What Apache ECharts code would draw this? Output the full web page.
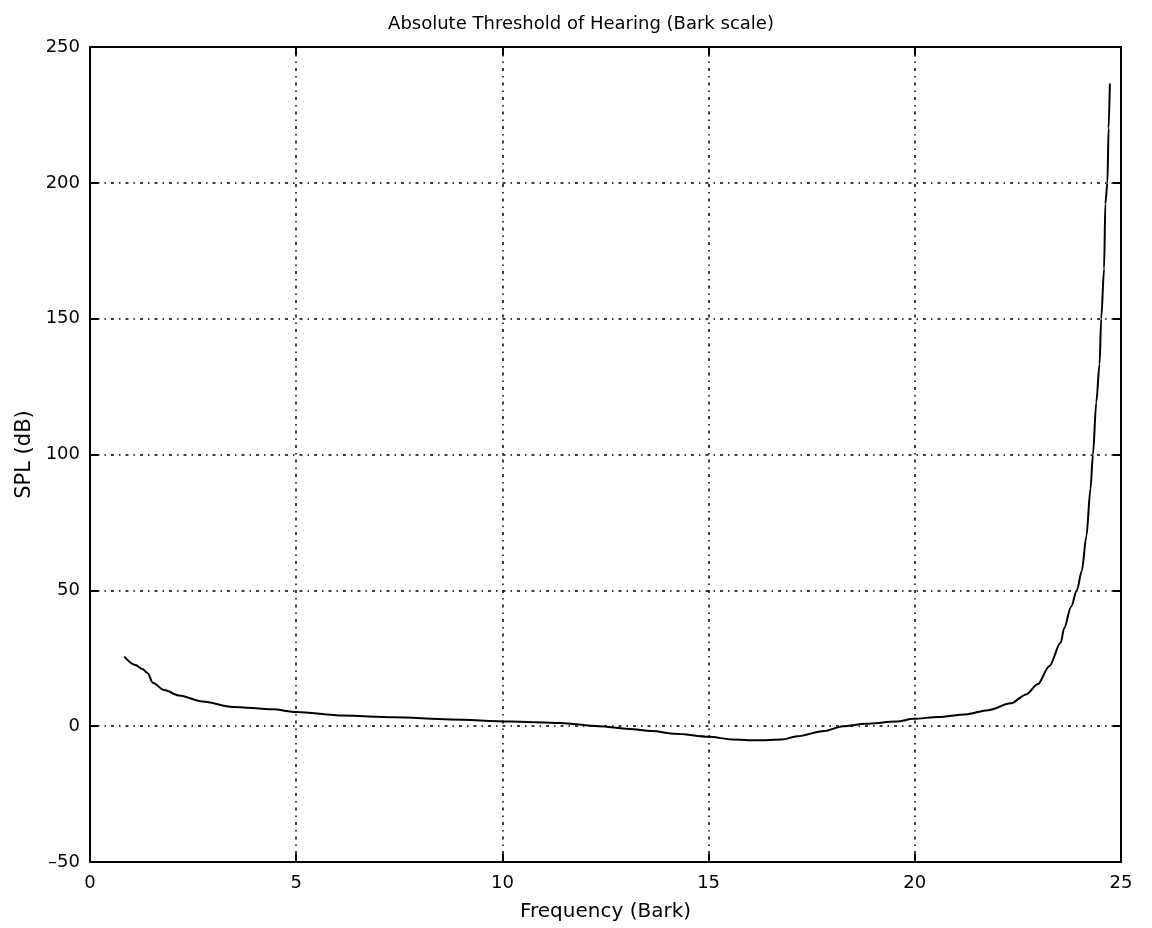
<!DOCTYPE html>
<html>
<head>
<meta charset="utf-8">
<script src="https://cdn.jsdelivr.net/npm/echarts@6/dist/echarts.min.js"></script>
<style>
html,body{margin:0;padding:0;background:#fff;}
#chart{width:1152px;height:928px;}
</style>
</head>
<body>
<div id="chart"></div>
<script>
const titleText = "Absolute Threshold of Hearing (Bark scale)";
const xAxisName = "Frequency (Bark)";
const yAxisName = "SPL (dB)";
const xTicks = [0, 5, 10, 15, 20, 25];
const yTicks = [-50, 0, 50, 100, 150, 200, 250];

const bark = [0.83, 1.1, 1.27, 1.4, 1.52, 1.8, 2.16, 2.73, 3.46, 4.43, 5.0, 6.13, 7.35, 8.73, 10.19, 11.4,
  12.33, 13.07, 13.63, 14.19, 15.02, 15.57, 16.18, 16.78, 17.15, 17.80, 18.26, 18.81, 19.56, 19.97,
  20.57, 21.22, 21.78, 22.33, 22.70, 22.98, 23.26, 23.54, 23.62, 23.79, 23.93, 24.05, 24.16, 24.26,
  24.32, 24.40, 24.48, 24.52, 24.59, 24.62, 24.67, 24.70, 24.73];
const spl = [25.6, 22.5, 21.0, 19.5, 16.0, 13.3, 11.3, 9.1, 7.1, 6.2, 5.2, 3.9, 3.3, 2.5, 1.7, 1.2,
  0.0, -1.0, -1.8, -2.8, -3.9, -4.9, -5.2, -4.9, -3.7, -1.8, 0.0, 0.9, 1.7, 2.7,
  3.4, 4.3, 5.9, 8.4, 11.7, 15.4, 22.1, 30.8, 36.0, 44.0, 50.0, 57.2, 69.8, 87.4,
  100.0, 119.1, 133.2, 150.0, 168.4, 192.3, 200.0, 220.1, 236.6];

const font = "'DejaVu Sans', 'Liberation Sans', sans-serif";
const points = bark.map((b, i) => [b, spl[i]]);

const gridDash = [1.5, 5, 3, 5];
const chart = echarts.init(document.getElementById('chart'), null, {renderer: 'canvas'});
const xMin = xTicks[0], xMax = xTicks[xTicks.length - 1];
const yMin = yTicks[0], yMax = yTicks[yTicks.length - 1];

const baseAxisLine = {show: true, onZero: false, lineStyle: {color: '#000', width: 2}};
const tick = {show: true, inside: true, length: 8, lineStyle: {color: '#000', width: 2}};
const minusFmt = v => String(v).replace('-', '\u2013');

chart.setOption({
  animation: false,
  backgroundColor: '#fff',
  title: {
    text: titleText, left: 576, top: 10, textAlign: 'center',
    textStyle: {fontFamily: font, fontSize: 18, fontWeight: 'normal', color: '#000'}
  },
  grid: {left: 90, right: 31, top: 47, bottom: 66},
  xAxis: [{
    type: 'value', min: xMin, max: xMax, interval: 5, position: 'bottom',
    name: xAxisName, nameLocation: 'middle', nameGap: 40,
    nameTextStyle: {fontFamily: font, fontSize: 20, color: '#000'},
    axisLine: baseAxisLine, axisTick: tick,
    axisLabel: {fontFamily: font, fontSize: 18, color: '#000', margin: 12},
    splitLine: {show: true, lineStyle: {color: '#000', width: 1.5, type: gridDash}}
  }, {
    type: 'value', min: xMin, max: xMax, interval: 5, position: 'top',
    axisLine: baseAxisLine, axisTick: tick, axisLabel: {show: false}, splitLine: {show: false}
  }],
  yAxis: [{
    type: 'value', min: yMin, max: yMax, interval: 50, position: 'left',
    name: yAxisName, nameLocation: 'middle', nameGap: 52, nameRotate: 90,
    nameTextStyle: {fontFamily: font, fontSize: 21, color: '#000'},
    axisLine: baseAxisLine, axisTick: tick,
    axisLabel: {fontFamily: font, fontSize: 18, color: '#000', margin: 10, formatter: minusFmt},
    splitLine: {show: true, lineStyle: {color: '#000', width: 1.5, type: gridDash}}
  }, {
    type: 'value', min: yMin, max: yMax, interval: 50, position: 'right',
    axisLine: baseAxisLine, axisTick: tick, axisLabel: {show: false}, splitLine: {show: false}
  }],
  series: [{
    type: 'line', xAxisIndex: 0, yAxisIndex: 0, data: points,
    showSymbol: false, smooth: 0.3, smoothMonotone: 'x',
    lineStyle: {color: '#000', width: 2}
  }]
});
</script>
</body>
</html>
